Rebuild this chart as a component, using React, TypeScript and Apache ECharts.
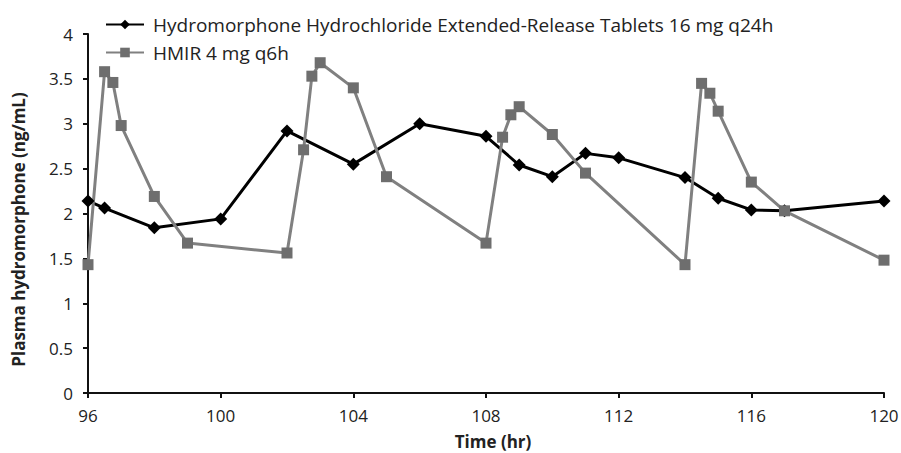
import React, { useEffect, useRef } from "react";
import * as echarts from "echarts";

const erTimes = [96, 96.5, 98, 100, 102, 104, 106, 108, 109, 110, 111, 112, 114, 115, 116, 117, 120];
const erValues = [2.14, 2.06, 1.84, 1.94, 2.92, 2.55, 3.0, 2.86, 2.54, 2.41, 2.67, 2.62, 2.4, 2.17, 2.04, 2.03, 2.14];

const irTimes = [96, 96.5, 96.75, 97, 98, 99, 102, 102.5, 102.75, 103, 104, 105, 108, 108.5, 108.75, 109, 110, 111, 114, 114.5, 114.75, 115, 116, 117, 120];
const irValues = [1.43, 3.58, 3.46, 2.98, 2.19, 1.67, 1.56, 2.71, 3.53, 3.68, 3.4, 2.41, 1.67, 2.85, 3.1, 3.19, 2.88, 2.45, 1.43, 3.45, 3.34, 3.14, 2.35, 2.03, 1.48];

const seriesNames = ["Hydromorphone Hydrochloride Extended-Release Tablets 16 mg q24h", "HMIR 4 mg q6h"];
const xTitle = "Time (hr)";
const yTitle = "Plasma hydromorphone (ng/mL)";

const FONT = "'Open Sans', sans-serif";

export default function App() {
  const ref = useRef<HTMLDivElement>(null);
  useEffect(() => {
    if (!ref.current) return;
    const chart = echarts.init(ref.current, null, { renderer: "svg" });
    chart.setOption({
      animation: false,
      backgroundColor: "#fff",
      grid: { left: 88, right: 17, top: 34, bottom: 60, containLabel: false, outerBoundsMode: "none" },
      legend: {
        orient: "vertical",
        left: 100,
        top: 10,
        itemWidth: 38,
        itemHeight: 12,
        itemGap: 9,
        textStyle: { fontFamily: FONT, fontSize: 19, color: "#222", padding: [0, 0, 0, 4] },
        data: seriesNames,
      },
      xAxis: {
        type: "value",
        min: 96,
        max: 120,
        interval: 4,
        name: xTitle,
        nameLocation: "middle",
        nameGap: 40,
        nameTextStyle: { fontFamily: FONT, fontSize: 17, fontWeight: "bold", color: "#222", padding: [0, 0, 0, 14] },
        axisLine: { lineStyle: { color: "#111", width: 2 } },
        axisTick: { show: true, length: 5, lineStyle: { color: "#111", width: 2 } },
        axisLabel: { fontFamily: FONT, fontSize: 17, color: "#222", margin: 14 },
        splitLine: { show: false },
      },
      yAxis: {
        type: "value",
        min: 0,
        max: 4,
        interval: 0.5,
        name: yTitle,
        nameLocation: "middle",
        nameGap: 61,
        nameTextStyle: { fontFamily: FONT, fontSize: 17, fontWeight: "bold", color: "#222", padding: [0, 32, 0, 0] },
        axisLine: { show: true, lineStyle: { color: "#111", width: 2 } },
        axisTick: { show: true, length: 5, lineStyle: { color: "#111", width: 2 } },
        axisLabel: { fontFamily: FONT, fontSize: 17, color: "#222", margin: 15 },
        splitLine: { show: false },
      },
      series: [
        {
          name: seriesNames[0],
          type: "line",
          data: erTimes.map((t, i) => [t, erValues[i]]),
          symbol: "diamond",
          symbolSize: 13,
          lineStyle: { color: "#000", width: 3 },
          itemStyle: { color: "#000" },
        },
        {
          name: seriesNames[1],
          type: "line",
          data: irTimes.map((t, i) => [t, irValues[i]]),
          symbol: "rect",
          symbolSize: 11,
          lineStyle: { color: "#808080", width: 3 },
          itemStyle: { color: "#6e6e6e" },
        },
      ],
    });
    return () => chart.dispose();
  }, []);
  return <div ref={ref} style={{ width: 901, height: 453, position: "absolute", left: 0, top: 0 }} />;
}
